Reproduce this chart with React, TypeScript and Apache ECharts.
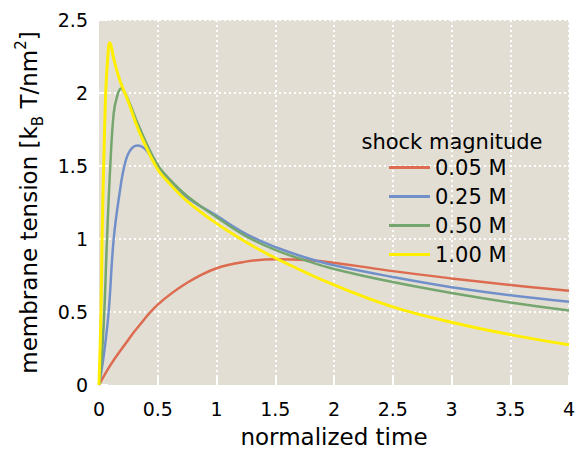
import React, { useEffect, useRef } from "react";
import * as echarts from "echarts";

const xTicks = ["0", "0.5", "1", "1.5", "2", "2.5", "3", "3.5", "4"];
const yTicks = ["0", "0.5", "1", "1.5", "2", "2.5"];

const seriesNames = ["0.05 M", "0.25 M", "0.50 M", "1.00 M"];

const redT = [0, 0.1, 0.25, 0.32, 0.5, 0.75, 1.0, 1.25, 1.5, 1.75, 2.0, 2.5, 3.0, 3.5, 4.0];
const redY = [0, 0.14, 0.31, 0.385, 0.55, 0.7, 0.8, 0.845, 0.862, 0.857, 0.838, 0.78, 0.73, 0.685, 0.645];

const blueT = [0, 0.04, 0.082, 0.125, 0.18, 0.216, 0.26, 0.326, 0.4, 0.49, 0.6, 0.75, 1.0, 1.25, 1.5, 1.75, 2.0, 2.5, 3.0, 3.5, 4.0];
const blueY = [0, 0.2, 0.5, 1.0, 1.34, 1.5, 1.6, 1.64, 1.61, 1.5, 1.4, 1.285, 1.16, 1.035, 0.945, 0.875, 0.82, 0.74, 0.67, 0.615, 0.57];

const greenT = [0, 0.02, 0.045, 0.068, 0.096, 0.125, 0.155, 0.187, 0.25, 0.335, 0.49, 0.6, 0.75, 1.0, 1.25, 1.5, 1.75, 2.0, 2.5, 3.0, 3.5, 4.0];
const greenY = [0, 0.15, 0.5, 1.0, 1.5, 1.86, 1.98, 2.03, 1.95, 1.78, 1.52, 1.41, 1.295, 1.15, 1.02, 0.925, 0.855, 0.795, 0.705, 0.63, 0.565, 0.51];

const yellowT = [0, 0.017, 0.026, 0.04, 0.057, 0.075, 0.091, 0.13, 0.18, 0.25, 0.335, 0.49, 0.6, 0.75, 1.0, 1.25, 1.5, 2.0, 2.5, 3.0, 3.5, 4.0];
const yellowY = [0, 0.5, 1.0, 1.5, 2.0, 2.25, 2.345, 2.22, 2.08, 1.94, 1.75, 1.49, 1.38, 1.26, 1.107, 0.98, 0.87, 0.685, 0.535, 0.43, 0.345, 0.275];

const colors = ["#dc6b50", "#7190c9", "#75a66f", "#ffee00"];
const FONT = "DejaVu Sans";

function pairs(t: number[], y: number[]) {
  return t.map((v, i) => [v, y[i]]);
}

export default function App() {
  const ref = useRef<HTMLDivElement>(null);
  useEffect(() => {
    if (!ref.current) return;
    const chart = echarts.init(ref.current, null, { renderer: "svg" });
    const allData = [
      pairs(redT, redY),
      pairs(blueT, blueY),
      pairs(greenT, greenY),
      pairs(yellowT, yellowY),
    ];
    chart.setOption({
      animation: false,
      textStyle: { fontFamily: FONT },
      grid: {
        left: 99,
        right: 7,
        top: 20,
        bottom: 66,
        outerBoundsMode: "none",
        containLabel: false,
        show: true,
        backgroundColor: "#e3ded4",
        borderWidth: 0,
      },
      xAxis: {
        type: "value",
        min: 0,
        max: 4,
        interval: 0.5,
        name: "normalized time",
        nameLocation: "middle",
        nameGap: 40,
        nameTextStyle: { fontSize: 23, lineHeight: 23, color: "#000", fontFamily: FONT },
        axisLine: { show: false },
        axisTick: { show: true, inside: true, length: 9, lineStyle: { color: "#ffffff", width: 2 } },
        axisLabel: {
          fontSize: 19,
          color: "#000",
          margin: 14,
          fontFamily: FONT,
          formatter: (v: number) => xTicks[Math.round(v / 0.5)] ?? String(v),
        },
        splitLine: {
          show: true,
          showMinLine: false,
          lineStyle: { color: "#ffffff", width: 2, type: [2, 3] },
        },
      },
      yAxis: {
        type: "value",
        min: 0,
        max: 2.5,
        interval: 0.5,
        name: "{a|membrane tension [k}{sub|B}{a| T/nm}{sup|2}{a|]}",
        nameLocation: "middle",
        nameGap: 54,
        nameRotate: 90,
        nameTextStyle: {
          rich: {
            a: { fontSize: 23, color: "#000", fontFamily: FONT, lineHeight: 32, verticalAlign: "middle" },
            sub: { fontSize: 15, color: "#000", fontFamily: FONT, lineHeight: 15, verticalAlign: "bottom" },
            sup: { fontSize: 15, color: "#000", fontFamily: FONT, lineHeight: 15, verticalAlign: "top" },
          },
        },
        axisLine: { show: false },
        axisTick: { show: true, inside: true, length: 9, lineStyle: { color: "#ffffff", width: 2 } },
        axisLabel: {
          fontSize: 19,
          color: "#000",
          margin: 11,
          fontFamily: FONT,
          formatter: (v: number) => yTicks[Math.round(v / 0.5)] ?? String(v),
        },
        splitLine: {
          show: true,
          showMinLine: false,
          lineStyle: { color: "#ffffff", width: 2, type: [2, 3] },
        },
      },
      legend: {
        show: true,
        orient: "vertical",
        left: 384,
        top: 148,
        icon: "rect",
        itemWidth: 41,
        itemHeight: 3,
        itemGap: 0,
        textStyle: { fontSize: 21, color: "#000", fontFamily: FONT, lineHeight: 29 },
        data: seriesNames,
      },
      graphic: [
        {
          type: "text",
          x: 452,
          y: 142,
          style: {
            text: "shock magnitude",
            fontSize: 21,
            fontFamily: FONT,
            fill: "#000",
            textAlign: "center",
            textVerticalAlign: "middle",
          },
        },
      ],
      series: seriesNames.map((name, i) => ({
        name,
        type: "line",
        data: allData[i],
        showSymbol: false,
        smooth: 0.4,
        color: colors[i],
        lineStyle: { width: i === 3 ? 3 : 2.5, color: colors[i] },
        itemStyle: { color: colors[i] },
      })),
    });
    return () => chart.dispose();
  }, []);
  return (
    <div
      ref={ref}
      style={{ position: "absolute", left: 0, top: 0, width: 576, height: 451 }}
    />
  );
}
